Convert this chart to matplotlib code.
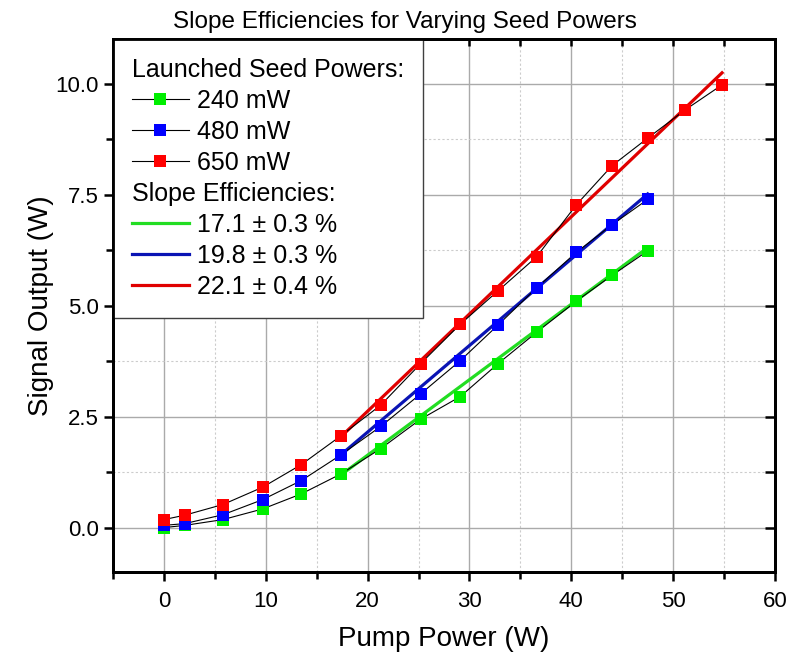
import matplotlib
matplotlib.use('Agg')
import matplotlib.pyplot as plt
from matplotlib.lines import Line2D
from matplotlib.ticker import MultipleLocator, FormatStrFormatter

plt.rcParams['font.family'] = ['Liberation Sans', 'DejaVu Sans']

# pump power (W) and signal output (W) for each launched seed power
pump = [0, 2.06, 5.8, 9.7, 13.5, 17.4, 21.3, 25.2, 29.1, 32.8, 36.6, 40.5, 44.0, 47.5, 51.2, 54.8]
sig_240 = [0.0, 0.05, 0.18, 0.42, 0.76, 1.21, 1.78, 2.44, 2.95, 3.69, 4.40, 5.10, 5.68, 6.23]
sig_480 = [0.05, 0.09, 0.29, 0.63, 1.06, 1.64, 2.28, 3.01, 3.76, 4.56, 5.40, 6.20, 6.82, 7.39]
sig_650 = [0.18, 0.28, 0.52, 0.91, 1.42, 2.07, 2.76, 3.69, 4.58, 5.33, 6.10, 7.27, 8.15, 8.77, 9.41, 9.97]
seed_labels = ['240 mW', '480 mW', '650 mW']

# linear fits (slope efficiency) drawn from fit_start to the last point
fit_labels = ['17.1 ± 0.3 %', '19.8 ± 0.3 %', '22.1 ± 0.4 %']
fit_slope = [0.170, 0.195, 0.219]
fit_icpt = [-1.77, -1.75, -1.76]
fit_start = 17.4

marker_colors = ['#00ee00', '#0000ff', '#ff0000']
fit_colors = ['#22dd22', '#0a14b4', '#e00000']

XLIM = (-5, 60)
YLIM = (-1, 11)

fig = plt.figure(figsize=(7.9, 6.52), dpi=100)
ax = fig.add_axes([0.143, 0.1227, 0.838, 0.8173])

series = [sig_240, sig_480, sig_650]
for i, sig in enumerate(series):
    x = pump[:len(sig)]
    xf = [fit_start, x[-1]]
    yf = [fit_slope[i] * v + fit_icpt[i] for v in xf]
    ax.plot(xf, yf, color=fit_colors[i], lw=2.3, zorder=3 + i * 0.1)
    ax.plot(x, sig, color='black', lw=0.8, marker='s', ms=8.5, mfc=marker_colors[i],
            mec=marker_colors[i], mew=0, zorder=4 + i * 0.1)

ax.set_xlim(*XLIM)
ax.set_ylim(*YLIM)
ax.xaxis.set_major_locator(MultipleLocator(10))
ax.xaxis.set_minor_locator(MultipleLocator(5))
ax.yaxis.set_major_locator(MultipleLocator(2.5))
ax.yaxis.set_minor_locator(MultipleLocator(1.25))
ax.yaxis.set_major_formatter(FormatStrFormatter('%.1f'))

ax.grid(which='major', color='#aaaaaa', lw=1.0, zorder=0)
ax.grid(which='minor', color='#cccccc', lw=0.8, ls=(0, (2, 2)), zorder=0)
ax.set_axisbelow(True)

ax.tick_params(which='both', direction='out', width=1.8, labelsize=16, colors='black')
ax.tick_params(which='major', length=6.5)
ax.tick_params(which='minor', length=5)
ax.tick_params(axis='x', pad=7)

# top and right ticks point inwards, Origin style
ax_t = ax.twiny()
ax_t.set_xlim(*XLIM)
ax_t.xaxis.set_major_locator(MultipleLocator(10))
ax_t.xaxis.set_minor_locator(MultipleLocator(5))
ax_t.tick_params(which='both', direction='in', width=1.8, length=5, labeltop=False)
ax_r = ax.twinx()
ax_r.set_ylim(*YLIM)
ax_r.yaxis.set_major_locator(MultipleLocator(2.5))
ax_r.yaxis.set_minor_locator(MultipleLocator(1.25))
ax_r.tick_params(which='both', direction='in', width=1.8, length=7, labelright=False)
for a in (ax, ax_t, ax_r):
    for s in a.spines.values():
        s.set_linewidth(2)
        s.set_zorder(6)

ax.set_xlabel('Pump Power (W)', fontsize=20, labelpad=10)
ax.set_ylabel('Signal Output (W)', fontsize=20, labelpad=1)
ax.set_title('Slope Efficiencies for Varying Seed Powers', fontsize=17.5, pad=8, x=0.441)

blank = Line2D([], [], color='none')
handles = [blank]
labels = ['Launched Seed Powers:']
for i in range(3):
    handles.append(Line2D([], [], color='black', lw=0.8, marker='s', ms=8.5,
                          mfc=marker_colors[i], mew=0))
    labels.append(seed_labels[i])
handles.append(blank)
labels.append('Slope Efficiencies:')
for i in range(3):
    handles.append(Line2D([], [], color=fit_colors[i], lw=2.3))
    labels.append(fit_labels[i])

leg = ax_r.legend(handles, labels, loc='upper left', bbox_to_anchor=(0, 1), borderaxespad=0,
                  fontsize=18, handlelength=2.3, handletextpad=0.3, labelspacing=0.28,
                  borderpad=0.75, fancybox=False, framealpha=1, edgecolor='#404040')
leg.get_frame().set_linewidth(1.0)

# header rows get no handle box, so their text lines up with the handles
for col in leg._legend_handle_box.get_children():
    for row in col.get_children():
        da, ta = row.get_children()
        if ta.get_text().endswith(':'):
            da.width = 0
            row.sep = 0

fig.savefig('out.png', dpi=100)
